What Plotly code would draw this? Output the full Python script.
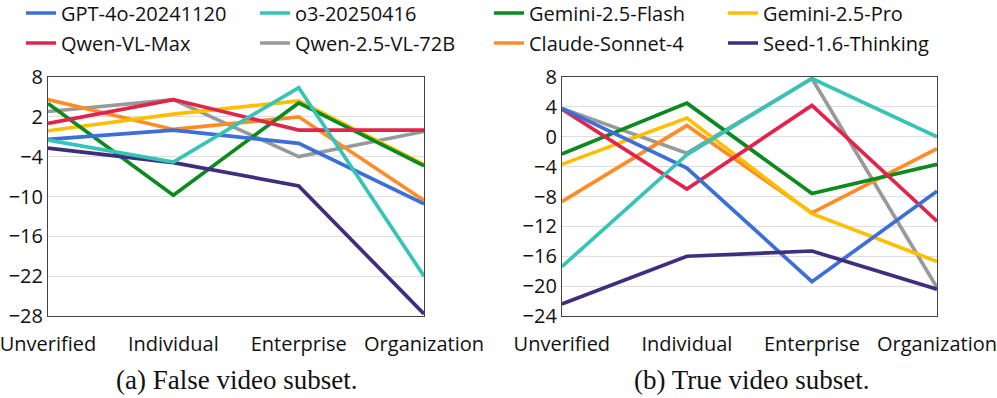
import plotly.graph_objects as go
from plotly.subplots import make_subplots

categories = ["Unverified", "Individual", "Enterprise", "Organization"]

models = ["GPT-4o-20241120", "o3-20250416", "Gemini-2.5-Flash", "Gemini-2.5-Pro",
          "Qwen-VL-Max", "Qwen-2.5-VL-72B", "Claude-Sonnet-4", "Seed-1.6-Thinking"]

false_gpt4o = [-1.4, 0.0, -2.0, -11.1]
false_o3 = [-1.5, -4.8, 6.4, -22.0]
false_flash = [4.0, -9.8, 4.1, -5.4]
false_pro = [-0.1, 2.4, 4.4, -5.2]
false_qwen_max = [1.0, 4.6, 0.0, 0.0]
false_qwen_72b = [2.8, 4.6, -4.0, -0.2]
false_claude = [4.6, 0.1, 2.0, -10.6]
false_seed = [-2.7, -4.9, -8.4, -27.7]

true_gpt4o = [3.8, -4.2, -19.4, -7.3]
true_o3 = [-17.4, -2.4, 7.8, 0.0]
true_flash = [-2.3, 4.5, -7.6, -3.7]
true_pro = [-3.7, 2.5, -10.3, -16.7]
true_qwen_max = [3.7, -7.0, 4.2, -11.3]
true_qwen_72b = [3.8, -2.2, 7.8, -20.2]
true_claude = [-8.7, 1.5, -10.2, -1.6]
true_seed = [-22.4, -16.0, -15.3, -20.4]

false_vals = [false_gpt4o, false_o3, false_flash, false_pro,
              false_qwen_max, false_qwen_72b, false_claude, false_seed]
true_vals = [true_gpt4o, true_o3, true_flash, true_pro,
             true_qwen_max, true_qwen_72b, true_claude, true_seed]

colors = ["#3d6fd9", "#35c4b6", "#0b8a1f", "#ffbf00",
          "#e2244b", "#999999", "#ff8c27", "#3f2d7e"]

# legend row / slot of each model
legend_row = ["legend", "legend", "legend", "legend",
              "legend2", "legend2", "legend2", "legend2"]
legend_slot = [1, 2, 3, 4, 1, 2, 3, 4]

# drawing order, last one on top
draw_order = [5, 6, 3, 2, 4, 0, 7, 1]

fig = make_subplots(rows=1, cols=2)

for i in draw_order:
    fig.add_trace(go.Scatter(
        x=categories, y=false_vals[i], name=models[i], mode="lines",
        line=dict(color=colors[i], width=3.7),
        legend=legend_row[i], legendrank=legend_slot[i], showlegend=True,
    ), row=1, col=1)
    fig.add_trace(go.Scatter(
        x=categories, y=true_vals[i], name=models[i], mode="lines",
        line=dict(color=colors[i], width=3.7),
        showlegend=False,
    ), row=1, col=2)

SANS = "Open Sans, Lato, sans-serif"
SERIF = "Liberation Serif, Times New Roman, serif"

W, H = 997, 398
ML, MR, MT, MB = 48, 60, 77, 82
pw = W - ML - MR
ph = H - MT - MB

AXIS = dict(
    showline=True, linecolor="#444444", linewidth=1, mirror=True,
    gridcolor="#dedede", gridwidth=1, zeroline=False,
    tickfont=dict(family=SANS, size=20, color="#111111"), ticks="",
    automargin=False,
)

fig.update_xaxes(**AXIS, range=[0, 3], showgrid=False, type="category",
                 ticklabelstandoff=10)
fig.update_xaxes(domain=[0, 0.423], row=1, col=1)
fig.update_xaxes(domain=[0.578, 1.0], row=1, col=2)
fig.update_yaxes(**AXIS)
fig.update_yaxes(range=[-28, 8], tick0=-28, dtick=6, row=1, col=1)
fig.update_yaxes(range=[-24, 8], tick0=-24, dtick=4, row=1, col=2)

# legends sit above and left of the plot area so they may span the full width
LEG = dict(
    orientation="h", xref="paper", yref="paper",
    xanchor="left", yanchor="middle",
    entrywidth=189, entrywidthmode="pixels",
    font=dict(family=SANS, size=20, color="#111111"),
    bgcolor="rgba(0,0,0,0)", itemwidth=30,
)

fig.update_layout(
    width=W, height=H,
    plot_bgcolor="#FFFFFF", paper_bgcolor="#FFFFFF",
    font=dict(family=SANS, color="#111111"),
    margin=dict(l=ML, r=MR, t=MT, b=MB, autoexpand=False),
    legend=dict(**LEG, x=(21 - ML) / pw, y=1 + (MT - 13) / ph),
    legend2=dict(**LEG, x=(21 - ML) / pw, y=1 + (MT - 43) / ph),
)

# captions under each panel
captions = ["(a) False video subset.", "(b) True video subset."]
caption_x = [236, 752]
for text, cx in zip(captions, caption_x):
    fig.add_annotation(
        text=text, x=(cx - ML) / pw, y=(H - MB - 380) / ph,
        xref="paper", yref="paper", showarrow=False,
        xanchor="center", yanchor="middle",
        font=dict(family=SERIF, size=27, color="#111111"),
    )

fig.write_html("out.html", config={"displayModeBar": False},
               post_script="document.body.style.margin='0';")
